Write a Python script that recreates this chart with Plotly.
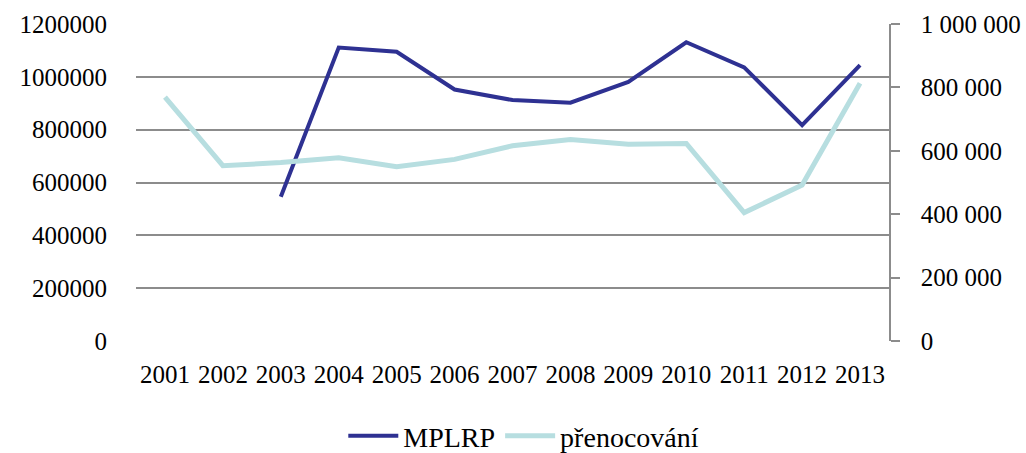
import plotly.graph_objects as go

years = ["2001", "2002", "2003", "2004", "2005", "2006", "2007", "2008", "2009", "2010", "2011", "2012", "2013"]
mplrp = [None, None, 546000, 1111000, 1095000, 952000, 912000, 902000, 981000, 1131000, 1036000, 817000, 1044000]
prenocovani = [769000, 553000, 563000, 578000, 550000, 573000, 616000, 636000, 621000, 623000, 405000, 492000, 813000]

left_ticks = [0, 200000, 400000, 600000, 800000, 1000000, 1200000]
right_ticks = [0, 200000, 400000, 600000, 800000, 1000000]

FONT = "Palatino Linotype, Book Antiqua, Palatino, Liberation Serif, serif"

fig = go.Figure()
fig.add_trace(go.Scatter(x=years, y=mplrp, name="MPLRP", mode="lines",
                         line=dict(color="#2E3192", width=4), yaxis="y"))
fig.add_trace(go.Scatter(x=years, y=prenocovani, name="přenocování", mode="lines",
                         line=dict(color="#B7DEE0", width=5), yaxis="y2"))

fig.update_layout(
    width=1026, height=453,
    margin=dict(l=136, r=137, t=24, b=112, autoexpand=False),
    paper_bgcolor="white", plot_bgcolor="white",
    font=dict(family=FONT, size=25, color="black"),
    separators=". ",
    showlegend=True,
    legend=dict(orientation="h", x=0.515, xanchor="center", y=-0.30, yanchor="middle",
                font=dict(size=28), traceorder="normal", itemwidth=50),
    xaxis=dict(type="category", range=[-0.5, 12.5], showgrid=False, showline=False,
               ticks="", ticklabelstandoff=16, zeroline=False, automargin=False),
    yaxis=dict(range=[0, 1200000], tickvals=left_ticks, tickformat="d",
               showgrid=True, gridcolor="#8c8c8c", gridwidth=1.5, zeroline=False,
               showline=False, ticks="", ticklabelstandoff=28, automargin=False),
    yaxis2=dict(range=[0, 1000000], tickvals=right_ticks, tickformat=",d",
                overlaying="y", side="right", showgrid=False, zeroline=False,
                showline=True, linecolor="#8c8c8c", linewidth=1.5,
                ticks="outside", ticklen=9, tickcolor="#8c8c8c", tickwidth=1.5,
                ticklabelstandoff=16, automargin=False),
)

fig.write_html("out.html", config={"displayModeBar": False},
               post_script="document.body.style.margin='0px';document.body.style.overflow='hidden';")
